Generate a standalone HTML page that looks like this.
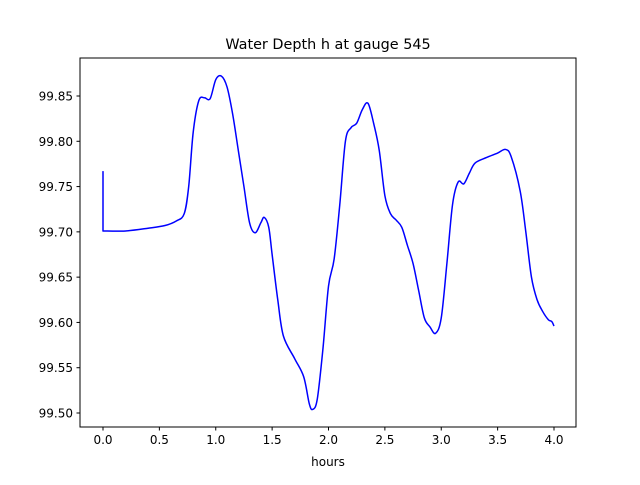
<!DOCTYPE html>
<html><head><meta charset="utf-8"><style>
body{margin:0;background:#fff}
svg text{font-family:"DejaVu Sans","Liberation Sans",sans-serif;fill:#000}
</style></head><body>
<svg id="chart" width="640" height="480" xmlns="http://www.w3.org/2000/svg">
<rect width="640" height="480" fill="#fff"/>
<text x="328" y="49" font-size="14.4" text-anchor="middle">Water Depth h at gauge 545</text>
<g id="plot"></g>
<rect x="80" y="58" width="496" height="369" fill="none" stroke="#000" stroke-width="1"/>
<text x="328" y="466" font-size="12" text-anchor="middle">hours</text>
</svg>
<script>
const xTicks=[0,0.5,1.0,1.5,2.0,2.5,3.0,3.5,4.0];
const yTicks=[99.50,99.55,99.60,99.65,99.70,99.75,99.80,99.85];
const hours=[0,0,0.2,0.4,0.55,0.65,0.72,0.76,0.8,0.85,0.9,0.95,1.0,1.05,1.1,1.15,1.2,1.25,1.3,1.35,1.4,1.43,1.47,1.5,1.55,1.6,1.7,1.78,1.83,1.86,1.9,1.95,2.0,2.05,2.1,2.15,2.2,2.25,2.3,2.35,2.4,2.45,2.5,2.55,2.6,2.65,2.7,2.75,2.8,2.85,2.9,2.95,3.0,3.05,3.1,3.15,3.2,3.25,3.3,3.4,3.5,3.57,3.62,3.7,3.75,3.8,3.85,3.9,3.95,3.98,4.0];
const depth=[99.767,99.701,99.701,99.704,99.707,99.712,99.72,99.75,99.81,99.845,99.848,99.847,99.868,99.872,99.86,99.83,99.79,99.75,99.71,99.699,99.71,99.716,99.705,99.675,99.625,99.585,99.56,99.54,99.51,99.504,99.515,99.57,99.64,99.67,99.73,99.80,99.815,99.82,99.835,99.842,99.82,99.79,99.74,99.72,99.713,99.705,99.685,99.665,99.635,99.605,99.595,99.588,99.605,99.665,99.73,99.755,99.753,99.765,99.776,99.782,99.787,99.791,99.783,99.745,99.70,99.65,99.625,99.612,99.603,99.601,99.596];
const xs=v=>103+v*(554-103)/4;
const ys=v=>413-(v-99.50)*(413-96)/0.35;
const NS="http://www.w3.org/2000/svg";
const g=document.getElementById('plot');
function mk(t,a){const e=document.createElementNS(NS,t);for(const k in a)e.setAttribute(k,a[k]);g.appendChild(e);return e;}
xTicks.forEach(v=>{
  const l=mk('line',{x1:xs(v),x2:xs(v),y1:427,y2:430.5,stroke:'#000'});
  
  
  const t=mk('text',{x:xs(v),y:444,'font-size':12,'text-anchor':'middle'});
  t.textContent=v.toFixed(1);
  
  
});
yTicks.forEach(v=>{
  const l=mk('line',{x1:76.5,x2:80,y1:ys(v),y2:ys(v),stroke:'#000'});
  
  
  const t=mk('text',{x:73,y:ys(v)+4.5,'font-size':12,'text-anchor':'end'});
  t.textContent=v.toFixed(2);
  
  
});
const pts=hours.map((h,i)=>[xs(h),ys(depth[i])]);
let d='M'+pts[0][0]+','+pts[0][1]+' L'+pts[1][0]+','+pts[1][1];
for(let i=1;i<pts.length-1;i++){
  const p0=pts[Math.max(i-1,1)],p1=pts[i],p2=pts[i+1],p3=pts[Math.min(i+2,pts.length-1)];
  const c1=[p1[0]+(p2[0]-p0[0])/6,p1[1]+(p2[1]-p0[1])/6];
  const c2=[p2[0]-(p3[0]-p1[0])/6,p2[1]-(p3[1]-p1[1])/6];
  d+=' C'+c1[0]+','+c1[1]+' '+c2[0]+','+c2[1]+' '+p2[0]+','+p2[1];
}
const p=mk('path',{d:d,fill:'none',stroke:'#0000ff','stroke-width':1.5,'stroke-linejoin':'round'});


</script>
</body></html>
